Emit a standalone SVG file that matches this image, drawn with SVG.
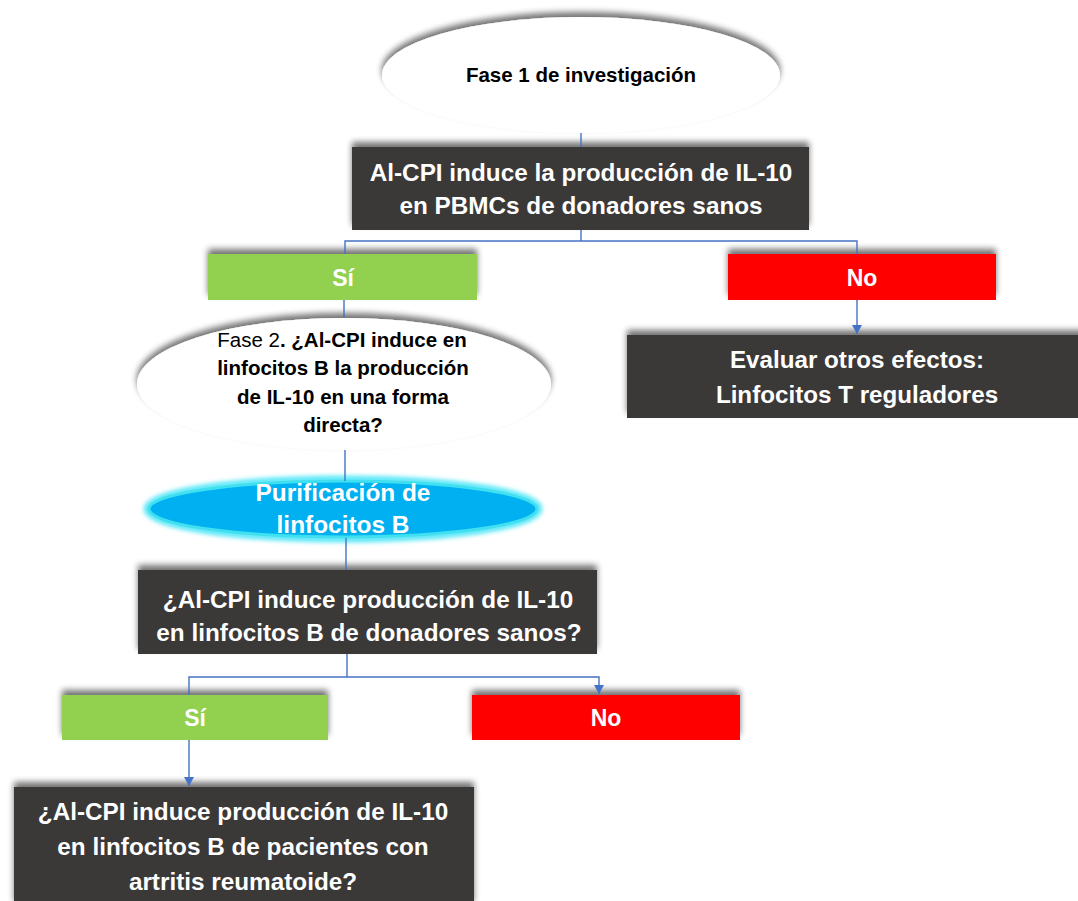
<svg xmlns="http://www.w3.org/2000/svg" width="1078" height="901" viewBox="0 0 1078 901">
<defs>
<style>
.t{font-family:"Liberation Sans",Arial,sans-serif;font-weight:bold;text-anchor:middle}
.w{fill:#ffffff}
.k{fill:#000000}
.dark{fill:#3B3838}
.green{fill:#92D050}
.red{fill:#FF0000}
.c{stroke:#4472C4;stroke-width:1.4;fill:none}
</style>
<filter id="sh" x="-10%" y="-40%" width="120%" height="180%">
<feOffset in="SourceAlpha" dx="0" dy="-5" result="o"/>
<feGaussianBlur in="o" stdDeviation="3" result="b"/>
<feComponentTransfer in="b" result="s"><feFuncA type="linear" slope="0.55"/></feComponentTransfer>
<feMerge><feMergeNode in="s"/><feMergeNode in="SourceGraphic"/></feMerge>
</filter>
<filter id="glow" x="-10%" y="-40%" width="120%" height="180%">
<feGaussianBlur stdDeviation="2"/>
</filter>
<marker id="ah" markerWidth="10" markerHeight="10" refX="9" refY="5" orient="auto" markerUnits="userSpaceOnUse">
<path d="M0,0 L9,5 L0,10 Z" fill="#4472C4"/>
</marker>
</defs>
<rect width="1078" height="901" fill="#ffffff"/>

<g id="fase1">
<ellipse cx="581" cy="75" rx="199" ry="58" fill="#ffffff" filter="url(#sh)"/>
<text class="t k" x="581" y="82" font-size="20.5">Fase 1 de investigación</text>
</g>

<g id="q1">
<rect class="dark" x="352" y="147" width="457" height="83" filter="url(#sh)"/>
<text class="t w" x="581" y="181" font-size="24.3">Al-CPI induce la producción de IL-10</text>
<text class="t w" x="581" y="214" font-size="24.3">en PBMCs de donadores sanos</text>
</g>

<g id="si1">
<rect class="green" x="208" y="254" width="269" height="46" filter="url(#sh)"/>
<text class="t w" x="343" y="286" font-size="23">Sí</text>
</g>

<g id="no1">
<rect class="red" x="728" y="254" width="268" height="46" filter="url(#sh)"/>
<text class="t w" x="862" y="286" font-size="23">No</text>
</g>

<g id="otros">
<rect class="dark" x="627" y="335" width="460" height="83" filter="url(#sh)"/>
<text class="t w" x="857" y="368" font-size="24.2">Evaluar otros efectos:</text>
<text class="t w" x="857" y="403" font-size="24.2">Linfocitos T reguladores</text>
</g>

<g id="fase2">
<ellipse cx="344" cy="384" rx="207" ry="66" fill="#ffffff" filter="url(#sh)"/>
<text class="t k" x="342" y="347" font-size="20.5"><tspan font-weight="normal">Fase 2</tspan>. ¿Al-CPI induce en</text>
<text class="t k" x="343" y="375" font-size="20.5">linfocitos B la producción</text>
<text class="t k" x="343" y="404" font-size="20.5">de IL-10  en una forma</text>
<text class="t k" x="343" y="432" font-size="20.5">directa?</text>
</g>

<g id="purificacion">
<ellipse cx="343" cy="509" rx="196" ry="30" fill="none" stroke="#5CE8F8" stroke-width="7" filter="url(#glow)"/>
<ellipse cx="343" cy="509" rx="194" ry="28" fill="#00B0F0" stroke="#40E0F0" stroke-width="3"/>
<text class="t w" x="343" y="501" font-size="24.4">Purificación de</text>
<text class="t w" x="343" y="533" font-size="24.4">linfocitos B</text>
</g>

<g id="q2">
<rect class="dark" x="138" y="570" width="459" height="84" filter="url(#sh)"/>
<text class="t w" x="368" y="608" font-size="24.3">¿Al-CPI induce producción de IL-10</text>
<text class="t w" x="369" y="641" font-size="24.3">en linfocitos B de donadores sanos?</text>
</g>

<g id="si2">
<rect class="green" x="62" y="695" width="266" height="45" filter="url(#sh)"/>
<text class="t w" x="195" y="726" font-size="23">Sí</text>
</g>

<g id="no2">
<rect class="red" x="472" y="695" width="268" height="45" filter="url(#sh)"/>
<text class="t w" x="606" y="726" font-size="23">No</text>
</g>

<g id="q3">
<rect class="dark" x="14" y="787" width="460" height="120" filter="url(#sh)"/>
<text class="t w" x="243" y="820" font-size="24.3">¿Al-CPI induce producción de IL-10</text>
<text class="t w" x="243" y="855" font-size="24.3">en linfocitos B de pacientes con</text>
<text class="t w" x="243" y="890" font-size="24.3">artritis reumatoide?</text>
</g>

<g id="connectors">
<line class="c" x1="581" y1="133" x2="581" y2="147"/>
<polyline class="c" points="581,230 581,241"/>
<polyline class="c" points="345,254 345,241 857,241 857,254"/>
<line class="c" x1="857" y1="300" x2="857" y2="334" marker-end="url(#ah)"/>
<line class="c" x1="344" y1="300" x2="344" y2="318"/>
<line class="c" x1="345" y1="450" x2="345" y2="481"/>
<line class="c" x1="346" y1="538" x2="346" y2="570"/>
<polyline class="c" points="347,654 347,677"/>
<polyline class="c" points="189,695 189,677 599,677 599,694" marker-end="url(#ah)"/>
<line class="c" x1="189" y1="740" x2="189" y2="786" marker-end="url(#ah)"/>
</g>
</svg>
